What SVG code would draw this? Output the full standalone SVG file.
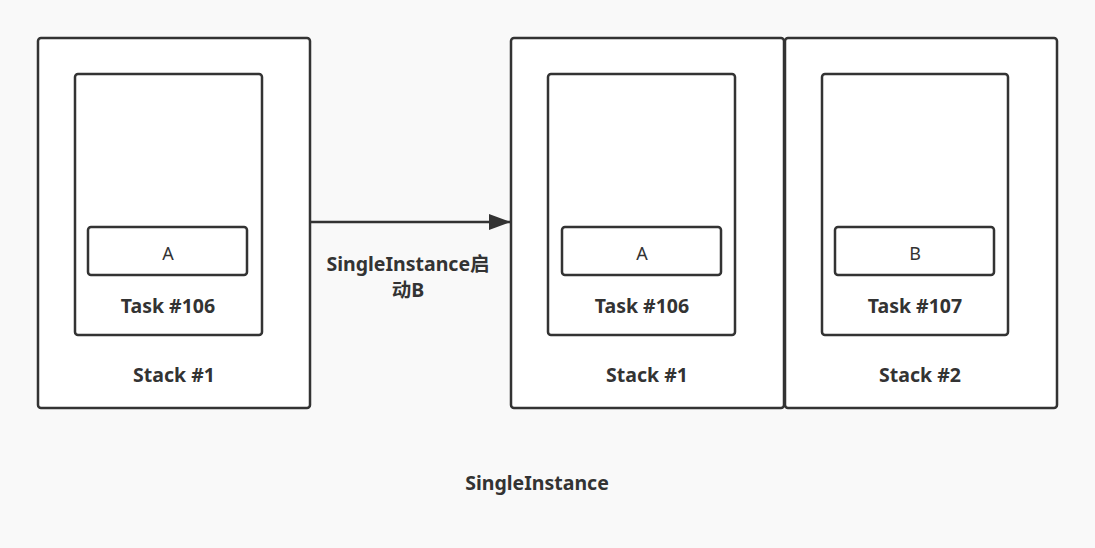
<svg xmlns="http://www.w3.org/2000/svg" width="1095" height="548" viewBox="0 0 1095 548">
<style>
.box{fill:#fff;stroke:#333;stroke-width:2.5}
.t{font-family:"Noto Sans","Noto Sans CJK SC",sans-serif;fill:#333;text-anchor:middle}
.b{font-weight:bold;font-size:19.5px}
.r{font-size:18px}
</style>
<defs>
<marker id="ah" markerWidth="22" markerHeight="16" refX="22" refY="8" orient="auto" markerUnits="userSpaceOnUse" viewBox="0 0 22 16">
<path d="M0,0 L22,8 L0,16 Z" fill="#333"/>
</marker>
</defs>
<rect width="1095" height="548" fill="#f9f9f9"/>
<g id="stack1-left">
<rect class="box" x="38" y="38" width="272" height="370" rx="3"/>
<text class="t b" x="174" y="382">Stack #1</text>
</g>
<g id="task106-left">
<rect class="box" x="75" y="74" width="187" height="261" rx="3"/>
<text class="t b" x="168" y="313">Task #106</text>
</g>
<g id="a-left">
<rect class="box" x="88" y="227" width="159" height="48" rx="3"/>
<text class="t r" x="168" y="260">A</text>
</g>
<g id="stack1-right">
<rect class="box" x="511" y="38" width="273" height="370" rx="3"/>
<text class="t b" x="647" y="382">Stack #1</text>
</g>
<g id="task106-right">
<rect class="box" x="548" y="74" width="187" height="261" rx="3"/>
<text class="t b" x="642" y="313">Task #106</text>
</g>
<g id="a-right">
<rect class="box" x="562" y="227" width="159" height="48" rx="3"/>
<text class="t r" x="642" y="260">A</text>
</g>
<g id="stack2">
<rect class="box" x="785" y="38" width="272" height="370" rx="3"/>
<text class="t b" x="920" y="382">Stack #2</text>
</g>
<g id="task107">
<rect class="box" x="822" y="74" width="186" height="261" rx="3"/>
<text class="t b" x="915" y="313">Task #107</text>
</g>
<g id="b-box">
<rect class="box" x="835" y="227" width="159" height="48" rx="3"/>
<text class="t r" x="915" y="260">B</text>
</g>
<g id="connectors">
<line x1="311" y1="222" x2="511" y2="222" stroke="#333" stroke-width="2.5" marker-end="url(#ah)"/>
<text class="t b" x="408" y="271">SingleInstance启</text>
<text class="t b" x="408" y="297">动B</text>
</g>
<g id="caption">
<text class="t b" x="537" y="490">SingleInstance</text>
</g>
</svg>
